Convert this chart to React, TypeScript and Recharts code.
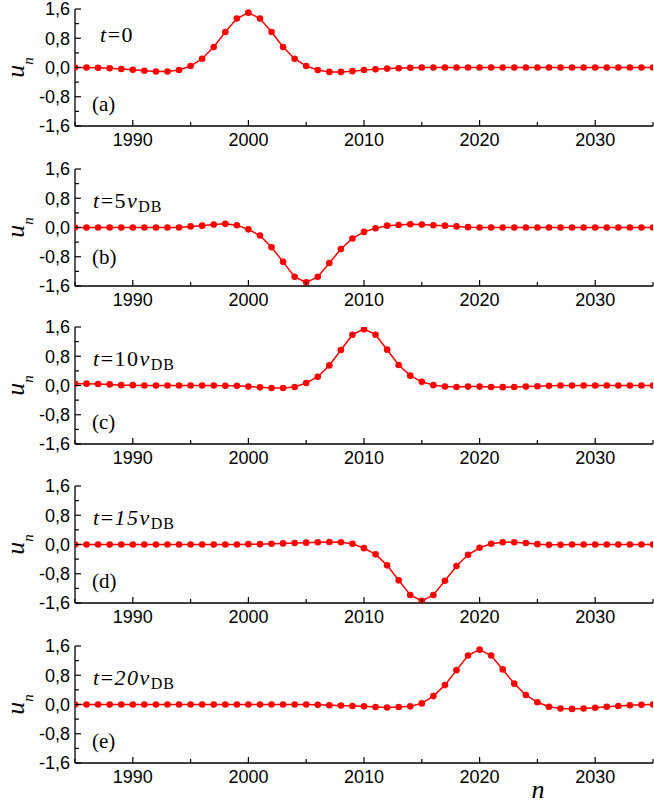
import React from 'react';
import { LineChart, Line, XAxis, YAxis } from 'recharts';

// lattice sites n
const sites = [
  1985, 1986, 1987, 1988, 1989, 1990, 1991, 1992, 1993, 1994,
  1995, 1996, 1997, 1998, 1999, 2000, 2001, 2002, 2003, 2004,
  2005, 2006, 2007, 2008, 2009, 2010, 2011, 2012, 2013, 2014,
  2015, 2016, 2017, 2018, 2019, 2020, 2021, 2022, 2023, 2024,
  2025, 2026, 2027, 2028, 2029, 2030, 2031, 2032, 2033, 2034,
  2035,
];

// u_n at t = 0
const uT0 = [
  0, 0, -0.01, -0.02, -0.04, -0.06, -0.09, -0.11, -0.11, -0.07,
  0.04, 0.24, 0.56, 0.97, 1.34, 1.5, 1.34, 0.97, 0.56, 0.24,
  0.04, -0.07, -0.12, -0.12, -0.1, -0.07, -0.05, -0.03, -0.02, -0.01,
  0, 0, 0, 0, 0, 0, 0, 0, 0, 0,
  0, 0, 0, 0, 0, 0, 0, 0, 0, 0,
  0,
];

// u_n at t = 5 v_DB
const uT5 = [
  0, 0, 0, 0, 0, 0, 0, 0, 0, 0,
  0.03, 0.05, 0.08, 0.1, 0.06, -0.05, -0.22, -0.54, -0.94, -1.35,
  -1.5, -1.35, -0.97, -0.59, -0.3, -0.12, -0.02, 0.05, 0.07, 0.09,
  0.08, 0.06, 0.05, 0.03, 0.01, 0, 0, 0, 0, 0,
  0, 0, 0, 0, 0, 0, 0, 0, 0, 0,
  0,
];

// u_n at t = 10 v_DB
const uT10 = [
  0.05, 0.05, 0.04, 0.03, 0.01, 0.01, 0, 0, 0, 0,
  0, 0, 0, -0.01, -0.01, -0.03, -0.05, -0.07, -0.07, -0.04,
  0.07, 0.24, 0.55, 0.97, 1.39, 1.54, 1.39, 0.98, 0.56, 0.27,
  0.1, 0.01, -0.03, -0.04, -0.03, -0.03, -0.04, -0.045, -0.04, -0.03,
  -0.02, -0.01, 0, 0, 0, 0, 0, 0, 0, 0,
  0,
];

// u_n at t = 15 v_DB
const uT15 = [
  0, 0, 0, 0, 0, 0, 0, 0, 0, 0,
  0, 0, 0, 0, 0, 0.01, 0.01, 0.02, 0.03, 0.04,
  0.05, 0.06, 0.07, 0.06, 0.02, -0.1, -0.27, -0.57, -0.98, -1.38,
  -1.54, -1.38, -0.99, -0.59, -0.28, -0.09, 0.02, 0.06, 0.06, 0.04,
  0.01, -0.01, -0.01, 0, 0, 0, 0, 0, 0, 0,
  0,
];

// u_n at t = 20 v_DB
const uT20 = [
  0, 0, 0, 0, 0, 0, 0, 0, 0, 0,
  0, 0, 0, 0, 0, 0, 0, 0, 0, 0,
  0, -0.01, -0.02, -0.03, -0.04, -0.05, -0.07, -0.08, -0.07, -0.05,
  0.03, 0.23, 0.53, 0.94, 1.34, 1.5, 1.34, 0.96, 0.57, 0.26,
  0.06, -0.06, -0.11, -0.12, -0.11, -0.09, -0.06, -0.04, -0.02, -0.01,
  0,
];

const series = [uT0, uT5, uT10, uT15, uT20];
const panelTags = ['(a)', '(b)', '(c)', '(d)', '(e)'];
const timeCoefs = ['0', '5', '10', '15', '20'];

const xTicks = [1985, 1990, 1995, 2000, 2005, 2010, 2015, 2020, 2025, 2030, 2035];
const yTicks = [-1.6, -1.2, -0.8, -0.4, 0, 0.4, 0.8, 1.2, 1.6];

const plotTops = [9, 169, 327, 486, 646];
const MARGIN_TOP = 9;
const PLOT_H = 117;
const RED = '#ff0000';
const SANS = '"Liberation Sans", Arial, sans-serif';
const SERIF = '"Liberation Serif", "Times New Roman", serif';

const isMajorY = (v: number) => Math.abs(v / 0.8 - Math.round(v / 0.8)) < 1e-6;
const fmtY = (v: number) => v.toFixed(1).replace('.', ',');

const BottomTick = (props: any) => {
  const { x, y, payload } = props;
  const major = payload.value % 10 === 0;
  return (
    <g>
      <line x1={x} y1={y} x2={x} y2={y - (major ? 6 : 4)} stroke="#000" strokeWidth={1.2} />
      {major && (
        <text x={x} y={y + 20} textAnchor="middle" fontSize={18} style={{ fontFamily: SANS }} fill="#000">
          {payload.value}
        </text>
      )}
    </g>
  );
};

const TopTick = (props: any) => {
  const { x, y, payload } = props;
  const major = payload.value % 10 === 0;
  return <line x1={x} y1={y} x2={x} y2={y + (major ? 6 : 4)} stroke="#000" strokeWidth={1.2} />;
};

const LeftTick = (props: any) => {
  const { x, y, payload } = props;
  const major = isMajorY(payload.value);
  return (
    <g>
      <line x1={x} y1={y} x2={x + (major ? 6 : 4)} y2={y} stroke="#000" strokeWidth={1.2} />
      {major && (
        <text x={x - 5} y={y} dy="0.36em" textAnchor="end" fontSize={18} style={{ fontFamily: SANS }} fill="#000">
          {fmtY(payload.value)}
        </text>
      )}
    </g>
  );
};

const RightTick = (props: any) => {
  const { x, y, payload } = props;
  const major = isMajorY(payload.value);
  return <line x1={x} y1={y} x2={x - (major ? 6 : 4)} y2={y} stroke="#000" strokeWidth={1.2} />;
};

function Panel({ values, top }: { values: number[]; top: number }) {
  const data = sites.map((n, i) => ({ n, u: values[i] }));
  const axisLine = { stroke: '#000', strokeWidth: 1.3 };
  return (
    <div style={{ position: 'absolute', left: 0, top: top - MARGIN_TOP }}>
      <LineChart width={654} height={MARGIN_TOP + PLOT_H + 34} data={data} margin={{ top: MARGIN_TOP, right: 1, bottom: 0, left: 0 }}>
        <XAxis xAxisId="b" dataKey="n" type="number" domain={[1985, 2035]} ticks={xTicks} interval={0}
          height={34} tickSize={0} tickMargin={0} tickLine={false} axisLine={axisLine} tick={BottomTick} allowDataOverflow />
        <XAxis xAxisId="t" orientation="top" dataKey="n" type="number" domain={[1985, 2035]} ticks={xTicks} interval={0}
          height={0} tickSize={0} tickMargin={0} tickLine={false} axisLine={axisLine} tick={TopTick} allowDataOverflow />
        <YAxis yAxisId="l" type="number" domain={[-1.6, 1.6]} ticks={yTicks} interval={0} width={75}
          tickSize={0} tickMargin={0} tickLine={false} axisLine={axisLine} tick={LeftTick} allowDataOverflow />
        <YAxis yAxisId="r" orientation="right" type="number" domain={[-1.6, 1.6]} ticks={yTicks} interval={0} width={0}
          tickSize={0} tickMargin={0} tickLine={false} axisLine={axisLine} tick={RightTick} allowDataOverflow />
        <Line xAxisId="b" yAxisId="l" type="linear" dataKey="u" stroke={RED} strokeWidth={1.5}
          dot={{ r: 3.3, fill: RED, stroke: RED, strokeWidth: 0 }} isAnimationActive={false} />
      </LineChart>
    </div>
  );
}

function Annotations() {
  return (
    <svg width={654} height={804} style={{ position: 'absolute', left: 0, top: 0, pointerEvents: 'none' }}>
      {plotTops.map((pt, i) => (
        <g key={i} style={{ fontFamily: SERIF }} fill="#000">
          {/* y-axis title u_n */}
          <text transform={`translate(24, ${pt + 58.5}) rotate(-90)`} textAnchor="middle" fontSize={26} fontStyle="italic">
            u<tspan fontSize={15} dy={9}>n</tspan>
          </text>
          {/* time label */}
          {i === 0 ? (
            <text x={100} y={pt + 33} fontSize={22} letterSpacing={1.5}>
              <tspan fontStyle="italic">t</tspan>=0
            </text>
          ) : (
            <text x={93} y={pt + 39} fontSize={22} letterSpacing={1.5}>
              <tspan fontStyle="italic">t</tspan>=<tspan fontStyle={i >= 3 ? 'italic' : 'normal'}>{timeCoefs[i]}</tspan>
              <tspan fontStyle="italic">v</tspan>
              <tspan fontSize={16} dy={4} letterSpacing={1}>DB</tspan>
            </text>
          )}
          {/* panel tag */}
          <text x={92} y={pt + (i === 1 ? 95 : 102)} fontSize={21}>{panelTags[i]}</text>
        </g>
      ))}
      <text x={538} y={798} textAnchor="middle" style={{ fontFamily: SERIF }} fontStyle="italic" fontSize={26}>n</text>
    </svg>
  );
}

export default function App() {
  return (
    <div style={{ position: 'absolute', left: 0, top: 0, width: 654, height: 804, background: '#fff' }}>
      {series.map((vals, i) => (
        <Panel key={i} values={vals} top={plotTops[i]} />
      ))}
      <Annotations />
    </div>
  );
}
